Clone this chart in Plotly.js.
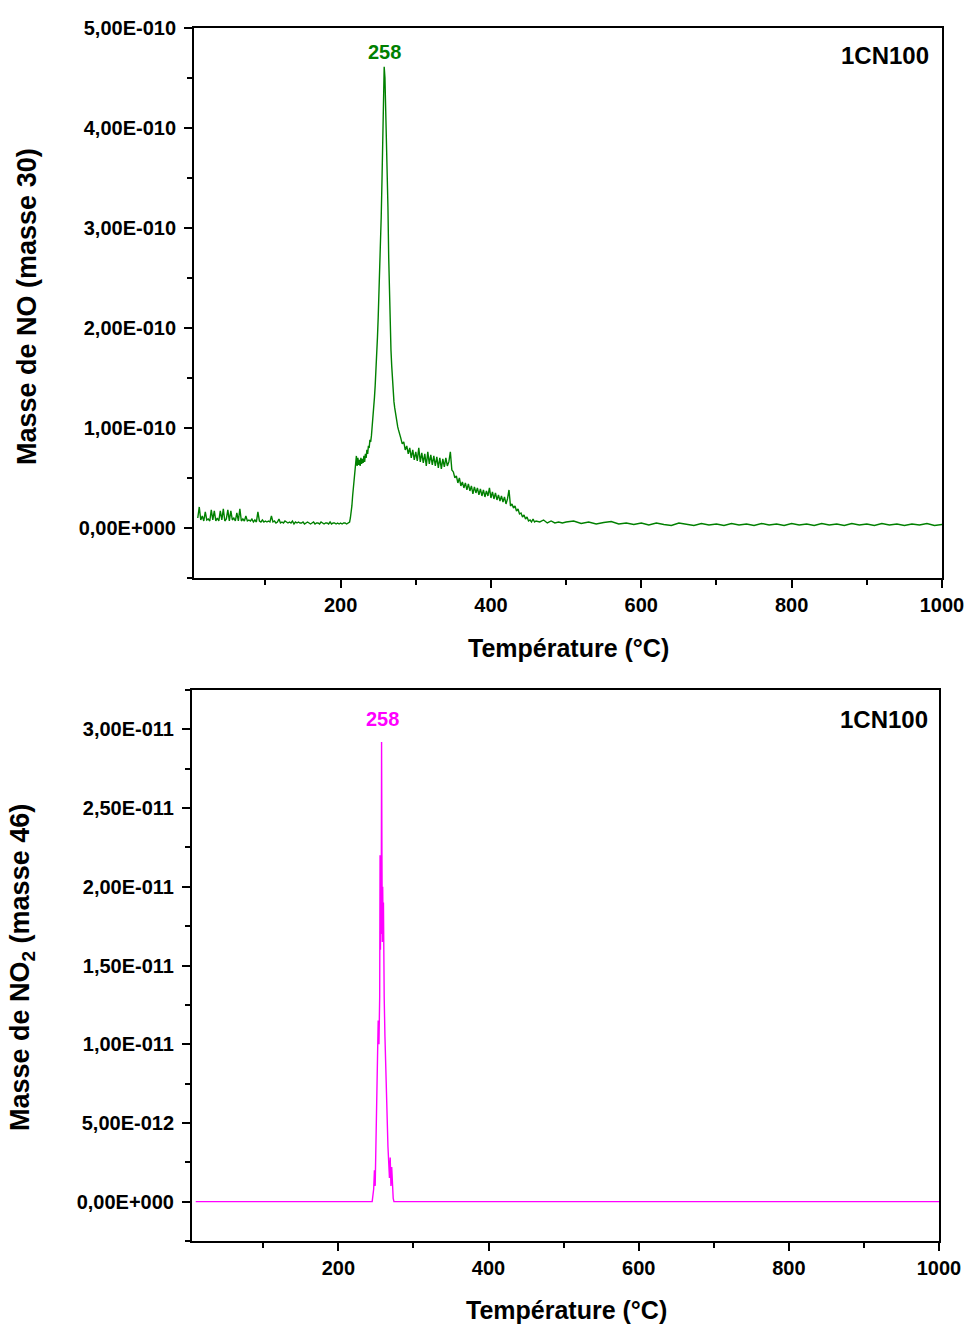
<!DOCTYPE html>
<html>
<head>
<meta charset="utf-8">
<script src="https://cdn.plot.ly/plotly-3.0.1.min.js"></script>
<style>html,body{margin:0;padding:0;background:#fff}#chart{width:966px;height:1324px}</style>
</head>
<body>
<div id="chart"></div>
<script>
// ---------- Top panel: NO (masse 30); values in units of 1E-010 ----------
// baseline segment, 10-210 °C
const noTempBase = [
 10,12,14,16,18,20,22,24,26,28, 30,32,34,36,38,40,42,44,46,48, 50,52,54,56,58,60,62,64,66,68,
 70,72,74,76,78,80,82,84,86,88, 90,92,94,96,98,100,102,104,106,108, 110,112,114,116,118,120,122,124,126,128,
 130,132,134,136,138,140,142,144,146,148, 150,152,154,156,158,160,162,164,166,168, 170,172,174,176,178,180,182,184,186,188,
 190,192,194,196,198,200,202,204,206,208, 210
];
const noMassBase = [
 0.10,0.21,0.08,0.12,0.07,0.16,0.08,0.09,0.07,0.18, 0.08,0.17,0.07,0.10,0.07,0.17,0.08,0.19,0.07,0.09, 0.18,0.07,0.17,0.08,0.10,0.07,0.15,0.07,0.19,0.07,
 0.09,0.07,0.12,0.07,0.08,0.07,0.09,0.06,0.08,0.06, 0.16,0.07,0.06,0.08,0.06,0.07,0.06,0.07,0.06,0.12, 0.06,0.07,0.05,0.06,0.09,0.05,0.06,0.05,0.07,0.06,
 0.05,0.06,0.05,0.07,0.04,0.06,0.05,0.06,0.05,0.05, 0.06,0.04,0.05,0.06,0.05,0.04,0.05,0.06,0.04,0.05, 0.05,0.04,0.06,0.05,0.04,0.05,0.05,0.04,0.06,0.04,
 0.05,0.05,0.04,0.05,0.04,0.05,0.04,0.05,0.05,0.04, 0.05
];
// rise and main peak, 212-280 °C
const noTempPeak = [
 212,213,214,215,216,217,218,219,220,221, 222,223,224,225,226,227,228,229,230,231,
 232,233,234,235,236,237,238,239,240,241, 242,243,244,245,246,247,248,249,250,251,
 252,253,254,255,256,257,258,259,260,261, 262,263,264,265,266,267,268,269,270,271,
 272,273,274,275,276,277,278,279,280
];
const noMassPeak = [
 0.06,0.10,0.15,0.22,0.32,0.42,0.50,0.58,0.64,0.72, 0.62,0.70,0.63,0.68,0.62,0.70,0.64,0.69,0.65,0.72,
 0.66,0.74,0.70,0.78,0.74,0.82,0.80,0.88,0.86,0.92, 1.00,1.10,1.20,1.30,1.42,1.55,1.72,1.90,2.10,2.32,
 2.55,2.80,3.10,3.45,3.85,4.30,4.61,4.50,4.20,3.95, 3.75,3.20,2.70,2.25,1.95,1.78,1.62,1.45,1.35,1.26,
 1.20,1.14,1.09,1.05,1.01,0.98,0.96,0.93,0.90
];
// shoulder, 282-460 °C
const noTempShoulder = [
 282,284,286,288,290,292,294,296,298,300, 302,304,306,308,310,312,314,316,318,320,
 322,324,326,328,330,332,334,336,338,340, 342,344,346,348,350,352,354,356,358,360,
 362,364,366,368,370,372,374,376,378,380, 382,384,386,388,390,392,394,396,398,400,
 402,404,406,408,410,412,414,416,418,420, 422,424,426,428,430,432,434,436,438,440,
 442,444,446,448,450,452,454,456,458,460
];
const noMassShoulder = [
 0.84,0.86,0.78,0.82,0.74,0.80,0.70,0.78,0.68,0.76, 0.67,0.80,0.66,0.75,0.65,0.74,0.62,0.76,0.64,0.73,
 0.63,0.72,0.62,0.71,0.60,0.70,0.59,0.69,0.61,0.70, 0.62,0.66,0.76,0.58,0.56,0.50,0.52,0.45,0.50,0.42,
 0.46,0.40,0.45,0.38,0.44,0.37,0.42,0.34,0.41,0.35, 0.40,0.33,0.39,0.32,0.38,0.31,0.37,0.32,0.40,0.30,
 0.36,0.29,0.35,0.28,0.33,0.27,0.32,0.26,0.31,0.24, 0.29,0.38,0.22,0.24,0.20,0.22,0.17,0.19,0.14,0.15,
 0.11,0.13,0.09,0.11,0.07,0.08,0.06,0.09,0.06,0.07
];
// tail, 465-1000 °C
const noTempTail = [
 465,470,475,480,485,490,495,500,
 510,520,530,540,550,560,570,580,590,600, 610,620,630,640,650,660,670,680,690,700,
 710,720,730,740,750,760,770,780,790,800, 810,820,830,840,850,860,870,880,890,900,
 910,920,930,940,950,960,970,980,990,1000
];
const noMassTail = [
 0.06,0.08,0.05,0.07,0.05,0.06,0.05,0.06,
 0.07,0.045,0.06,0.04,0.055,0.065,0.04,0.05,0.035,0.05, 0.03,0.05,0.035,0.025,0.05,0.04,0.025,0.045,0.03,0.04,
 0.025,0.045,0.03,0.04,0.025,0.045,0.03,0.04,0.025,0.045, 0.03,0.04,0.025,0.045,0.03,0.04,0.025,0.045,0.03,0.04,
 0.025,0.045,0.03,0.04,0.025,0.04,0.03,0.045,0.025,0.035
];

// ---------- Bottom panel: NO2 (masse 46); values in units of 1E-011 ----------
const no2Temp = [
 10,100,200,245,247,248,249,250,251,252, 253,254,255,255.5,256,256.5,257,257.5,258,258.5,
 259,259.5,260,260.5,261,262,263,264,265,266, 267,268,269,270,271,272,273,274,275,400,
 600,800,1000
];
const no2Mass = [
 0,0,0,0,0.08,0.20,0.10,0.35,0.60,0.75, 1.15,1.00,1.30,2.20,1.60,2.05,1.70,2.92,2.20,1.65,
 2.00,1.75,1.90,1.40,1.30,1.05,0.85,0.60,0.50,0.35, 0.25,0.15,0.28,0.10,0.22,0.05,0.02,0,0,0,
 0,0,0
];

// ---------- Tick labels ----------
const xTickVals = [200,400,600,800,1000];
const xTickText = ['200','400','600','800','1000'];
const noTickVals = [0,1e-10,2e-10,3e-10,4e-10,5e-10];
const noTickText = ['0,00E+000','1,00E-010','2,00E-010','3,00E-010','4,00E-010','5,00E-010'];
const no2TickVals = [0,5e-12,1e-11,1.5e-11,2e-11,2.5e-11,3e-11];
const no2TickText = ['0,00E+000','5,00E-012','1,00E-011','1,50E-011','2,00E-011','2,50E-011','3,00E-011'];

const peakLabel = '258';
const sampleName = '1CN100';

const noTemp = [].concat(noTempBase, noTempPeak, noTempShoulder, noTempTail);
const noMass = [].concat(noMassBase, noMassPeak, noMassShoulder, noMassTail).map(v => v * 1e-10);
const no2MassAbs = no2Mass.map(v => v * 1e-11);

const FONT = 'Liberation Sans, Arial, sans-serif';
const tickFont = {family: FONT, size: 20, color: '#000', weight: 'bold'};

function axisBase(standoff) {
  return {
    showline: true, linecolor: '#000', linewidth: 2, mirror: true,
    ticks: 'outside', ticklen: 8, tickwidth: 2, tickcolor: '#000',
    showgrid: false, zeroline: false, tickfont: tickFont,
    ticklabelstandoff: standoff
  };
}
function minorTicks(d) {
  return {ticks: 'outside', ticklen: 5, tickwidth: 2, tickcolor: '#000', tickmode: 'linear', tick0: 0, dtick: d, showgrid: false};
}

const traces = [
  {x: noTemp, y: noMass, type: 'scatter', mode: 'lines',
   line: {color: '#008000', width: 1.4}, xaxis: 'x', yaxis: 'y', hoverinfo: 'skip'},
  {x: no2Temp, y: no2MassAbs, type: 'scatter', mode: 'lines',
   line: {color: '#ff00ff', width: 1.4}, xaxis: 'x2', yaxis: 'y2', hoverinfo: 'skip'}
];

const W = 966, H = 1324;
const layout = {
  width: W, height: H,
  margin: {l: 0, r: 0, t: 0, b: 0},
  paper_bgcolor: '#fff', plot_bgcolor: '#fff',
  showlegend: false,
  xaxis: Object.assign(axisBase(0), {
    domain: [194/W, 942/W], range: [5, 1000], anchor: 'y',
    tickmode: 'array', tickvals: xTickVals, ticktext: xTickText, minor: minorTicks(100)
  }),
  yaxis: Object.assign(axisBase(4), {
    domain: [1 - 578/H, 1 - 27.7/H], range: [-0.5e-10, 5e-10], anchor: 'x',
    tickmode: 'array', tickvals: noTickVals, ticktext: noTickText, minor: minorTicks(0.5e-10)
  }),
  xaxis2: Object.assign(axisBase(0), {
    domain: [192/W, 939/W], range: [5, 1000], anchor: 'y2',
    tickmode: 'array', tickvals: xTickVals, ticktext: xTickText, minor: minorTicks(100)
  }),
  yaxis2: Object.assign(axisBase(4), {
    domain: [1 - 1241/H, 1 - 690/H], range: [-2.5e-12, 3.25e-11], anchor: 'x2',
    tickmode: 'array', tickvals: no2TickVals, ticktext: no2TickText, minor: minorTicks(0.25e-11)
  }),
  annotations: [
    {text: peakLabel, xref: 'x', yref: 'y', x: 258.6, y: 4.76e-10, showarrow: false,
     xanchor: 'center', yanchor: 'middle', font: {family: FONT, size: 20, color: '#008000', weight: 'bold'}},
    {text: sampleName, xref: 'x', yref: 'y', x: 985.5, y: 4.72e-10, showarrow: false,
     xanchor: 'right', yanchor: 'middle', font: {family: FONT, size: 24, color: '#000', weight: 'bold'}},
    {text: peakLabel, xref: 'x2', yref: 'y2', x: 259, y: 3.065e-11, showarrow: false,
     xanchor: 'center', yanchor: 'middle', font: {family: FONT, size: 20, color: '#ff00ff', weight: 'bold'}},
    {text: sampleName, xref: 'x2', yref: 'y2', x: 988, y: 3.06e-11, showarrow: false,
     xanchor: 'right', yanchor: 'middle', font: {family: FONT, size: 24, color: '#000', weight: 'bold'}},
    {text: 'Température (°C)', xref: 'paper', yref: 'paper', x: 568/W, y: 1 - 648/H, showarrow: false,
     xanchor: 'center', yanchor: 'middle', font: {family: FONT, size: 25, color: '#000', weight: 'bold'}},
    {text: 'Température (°C)', xref: 'paper', yref: 'paper', x: 566/W, y: 1 - 1310/H, showarrow: false,
     xanchor: 'center', yanchor: 'middle', font: {family: FONT, size: 25, color: '#000', weight: 'bold'}},
    {text: 'Masse de NO (masse 30)', xref: 'paper', yref: 'paper', x: 27/W, y: 1 - 307/H, showarrow: false,
     textangle: -90, xanchor: 'center', yanchor: 'middle', font: {family: FONT, size: 27, color: '#000', weight: 'bold'}},
    {text: 'Masse de NO<sub>2</sub> (masse 46)', xref: 'paper', yref: 'paper', x: 22/W, y: 1 - 968/H, showarrow: false,
     textangle: -90, xanchor: 'center', yanchor: 'middle', font: {family: FONT, size: 27, color: '#000', weight: 'bold'}}
  ]
};

Plotly.newPlot('chart', traces, layout, {displayModeBar: false, staticPlot: true});
</script>
</body>
</html>
